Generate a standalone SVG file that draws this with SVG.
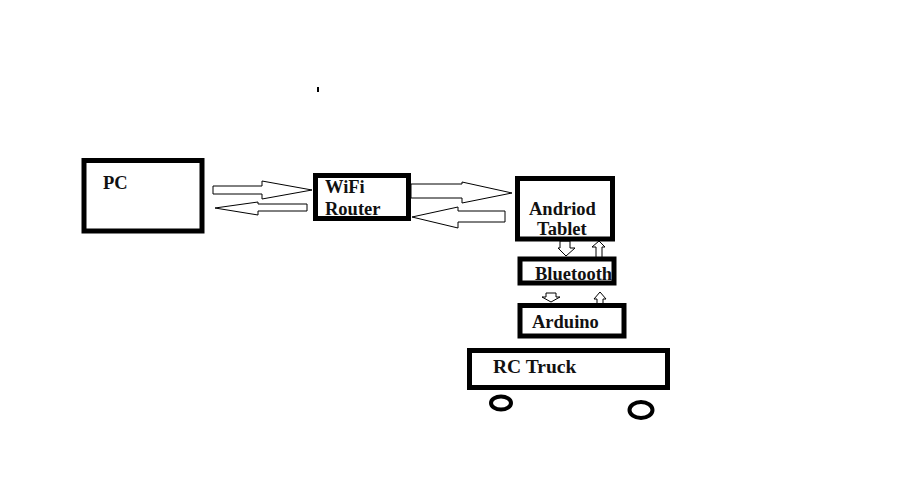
<svg xmlns="http://www.w3.org/2000/svg" width="922" height="484" viewBox="0 0 922 484">
<style>
.box{fill:#fff;stroke:#000;stroke-width:5}
.lbl{font-family:"Liberation Serif","Times New Roman",serif;font-weight:bold;font-size:18.5px;fill:#111}
.arr{fill:#fff;stroke:#000;stroke-width:1}
.wheel{fill:none;stroke:#000;stroke-width:4}
</style>
<rect width="922" height="484" fill="#fff"/>
<rect x="317" y="87" width="2" height="5" fill="#000"/>
<g id="connectors">
<polygon class="arr" points="213,186 262,186 262,181 312,190 262,199 262,194 213,194"/>
<polygon class="arr" points="307,204 258,204 258,202 215,208 258,215 258,211 307,211"/>
<polygon class="arr" points="411,184 462,184 462,182 512,193 462,203 462,198 411,198"/>
<polygon class="arr" points="505,211 458,211 458,207 412,217 458,228 458,222 505,222"/>
<polygon class="arr" points="560,241 570,241 570,248 575,248 566,256 558,248 560,248"/>
<polygon class="arr" points="596,258 596,247 592,247 599,241 605,247 602,247 602,258"/>
<polygon class="arr" points="546,293 556,293 556,297 560,297 551,302 542,297 546,297"/>
<polygon class="arr" points="597,305 597,299 594,299 600,292 606,299 603,299 603,305"/>
</g>
<g id="pc">
<rect class="box" x="84" y="160.5" width="118" height="70.5"/>
<text class="lbl" x="103" y="189">PC</text>
</g>
<g id="router">
<rect class="box" x="315.5" y="175.5" width="93" height="43"/>
<text class="lbl" x="325" y="193">WiFi</text>
<text class="lbl" x="325" y="215">Router</text>
</g>
<g id="tablet">
<rect class="box" x="517.5" y="178.5" width="95" height="60.5"/>
<text class="lbl" x="529" y="215">Andriod</text>
<text class="lbl" x="537" y="235">Tablet</text>
</g>
<g id="bluetooth">
<rect class="box" x="520" y="259" width="94" height="24"/>
<text class="lbl" x="535" y="280">Bluetooth</text>
</g>
<g id="arduino">
<rect class="box" x="520" y="305.5" width="104" height="30.5"/>
<text class="lbl" x="532" y="328">Arduino</text>
</g>
<g id="truck">
<rect class="box" x="469.5" y="350.5" width="198" height="37"/>
<text class="lbl" x="493" y="373" style="font-size:19.5px">RC Truck</text>
<ellipse class="wheel" cx="501" cy="403" rx="10" ry="6.5"/>
<ellipse class="wheel" cx="641" cy="410" rx="11.5" ry="8"/>
</g>
</svg>
